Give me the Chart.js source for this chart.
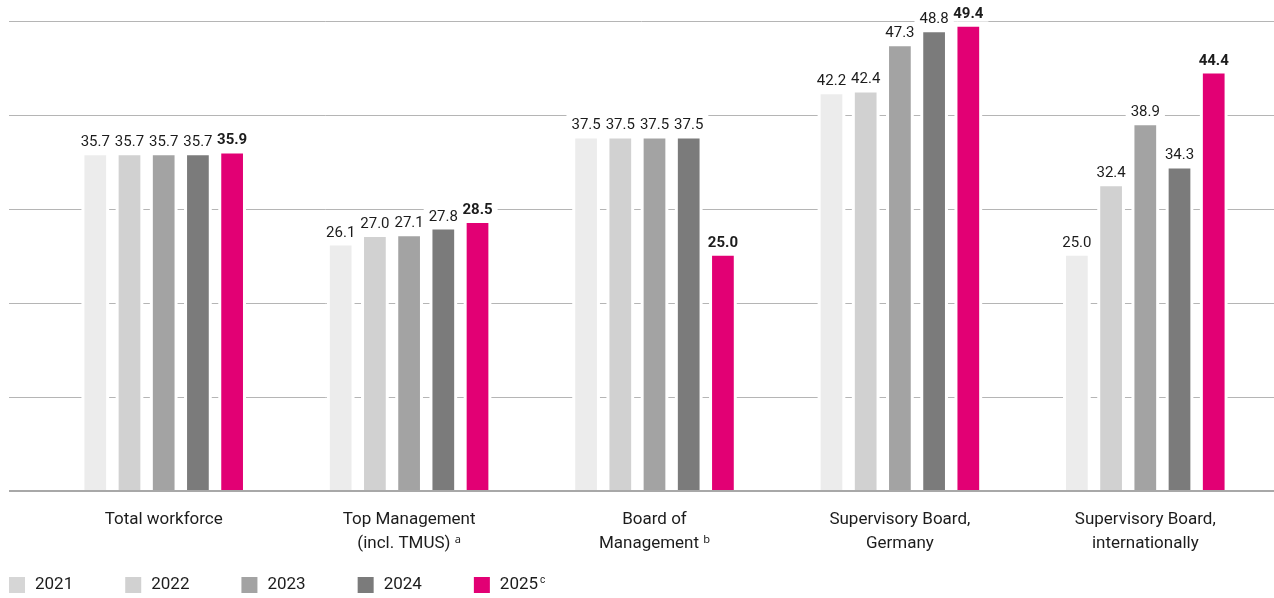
<!DOCTYPE html>
<html>
<head>
<meta charset="utf-8">
<title>Share of women</title>
<script src="https://cdn.jsdelivr.net/npm/chart.js@4.4.1/dist/chart.umd.min.js"></script>
<style>
  html, body { margin: 0; padding: 0; background: #fff; }
  #wrap { width: 1274px; height: 598px; position: relative; }
</style>
</head>
<body>
<div id="wrap"><canvas id="shareChart"></canvas></div>
<script>
const categories = [
  ['Total workforce'],
  ['Top Management', '(incl. TMUS) ᵃ'],
  ['Board of', 'Management ᵇ'],
  ['Supervisory Board,', 'Germany'],
  ['Supervisory Board,', 'internationally']
];
const years = ['2021', '2022', '2023', '2024', '2025'];
const yearNotes = ['', '', '', '', 'c'];
const values2021 = [35.7, 26.1, 37.5, 42.2, 25.0];
const values2022 = [35.7, 27.0, 37.5, 42.4, 32.4];
const values2023 = [35.7, 27.1, 37.5, 47.3, 38.9];
const values2024 = [35.7, 27.8, 37.5, 48.8, 34.3];
const values2025 = [35.9, 28.5, 25.0, 49.4, 44.4];
const yTicks = [0, 10, 20, 30, 40, 50];

const colors = ['#ececec', '#d1d1d1', '#a3a3a3', '#7b7b7b', '#e20074'];
const swatches = ['#d6d6d6', '#d1d1d1', '#a3a3a3', '#7b7b7b', '#e20074'];
const FONT = 'Roboto, "Noto Sans", sans-serif';
const GRID_LEFT = 9;
const LABEL_GAP = 9;

const series = [values2021, values2022, values2023, values2024, values2025];
const fmt = v => v.toFixed(1);
const valueFont = i => (i === series.length - 1 ? 'bold ' : '') + '15px ' + FONT;

// gridlines run the full width, with white gaps around bars and value labels
const guides = {
  id: 'guides',
  beforeDatasetsDraw(chart) {
    const { ctx, scales: { y } } = chart;
    ctx.save();
    ctx.strokeStyle = '#b5b5b5';
    ctx.lineWidth = 1;
    y.ticks.forEach(t => {
      if (t.value === 0) return;
      const py = Math.round(y.getPixelForValue(t.value)) + 0.5;
      ctx.beginPath();
      ctx.moveTo(GRID_LEFT, py);
      ctx.lineTo(chart.width, py);
      ctx.stroke();
    });
    ctx.fillStyle = '#fff';
    chart.data.datasets.forEach((ds, i) => {
      chart.getDatasetMeta(i).data.forEach((bar, j) => {
        ctx.fillRect(bar.x - bar.width / 2 - 3, bar.y - 2, bar.width + 6, bar.base - bar.y + 2);
        ctx.font = valueFont(i);
        const w = ctx.measureText(fmt(ds.data[j])).width;
        ctx.fillRect(bar.x - w / 2 - 5, bar.y - LABEL_GAP - 15, w + 10, 19);
      });
    });
    ctx.restore();
  },
  afterDatasetsDraw(chart) {
    const { ctx, scales: { y } } = chart;
    ctx.save();
    // baseline
    ctx.fillStyle = '#a8a8a8';
    ctx.fillRect(GRID_LEFT, Math.round(y.getPixelForValue(0)) - 1, chart.width - GRID_LEFT, 2);
    // value labels
    ctx.fillStyle = '#1c1c1c';
    ctx.textAlign = 'center';
    ctx.textBaseline = 'alphabetic';
    chart.data.datasets.forEach((ds, i) => {
      ctx.font = valueFont(i);
      chart.getDatasetMeta(i).data.forEach((bar, j) => {
        ctx.fillText(fmt(ds.data[j]), bar.x, bar.y - LABEL_GAP);
      });
    });
    ctx.restore();
  },
  afterDraw(chart) {
    // legend row along the bottom
    const { ctx } = chart;
    ctx.save();
    ctx.textBaseline = 'middle';
    ctx.textAlign = 'left';
    let x = GRID_LEFT;
    const top = 577, box = 16;
    chart.data.datasets.forEach((ds, i) => {
      ctx.fillStyle = swatches[i];
      ctx.fillRect(x, top, box, box);
      ctx.fillStyle = '#1c1c1c';
      ctx.font = '17px ' + FONT;
      const tx = x + box + 10;
      ctx.fillText(years[i], tx, top + box / 2);
      let w = ctx.measureText(years[i]).width;
      if (yearNotes[i]) {
        ctx.font = '10px ' + FONT;
        ctx.fillText(yearNotes[i], tx + w + 2, top + 3);
        w += 2 + ctx.measureText(yearNotes[i]).width;
      }
      x = tx + w + 52;
    });
    ctx.restore();
  }
};

new Chart(document.getElementById('shareChart'), {
  type: 'bar',
  data: {
    labels: categories,
    datasets: series.map((data, i) => ({
      label: years[i],
      data,
      backgroundColor: colors[i],
      borderWidth: 0,
      categoryPercentage: 0.697,
      barPercentage: 0.635
    }))
  },
  options: {
    responsive: true,
    maintainAspectRatio: false,
    animation: false,
    events: [],
    layout: { padding: { left: 41, right: 6, top: 21, bottom: 25 } },
    plugins: {
      legend: { display: false },
      tooltip: { enabled: false }
    },
    scales: {
      x: {
        grid: { display: false, drawTicks: false },
        border: { display: false },
        ticks: {
          autoSkip: false,
          maxRotation: 0,
          padding: 17,
          color: '#1c1c1c',
          font: { family: FONT, size: 17, lineHeight: 1.42 }
        }
      },
      y: {
        display: false,
        min: 0,
        max: 50,
        afterBuildTicks: s => { s.ticks = yTicks.map(v => ({ value: v })); }
      }
    }
  },
  plugins: [guides]
});
</script>
</body>
</html>
